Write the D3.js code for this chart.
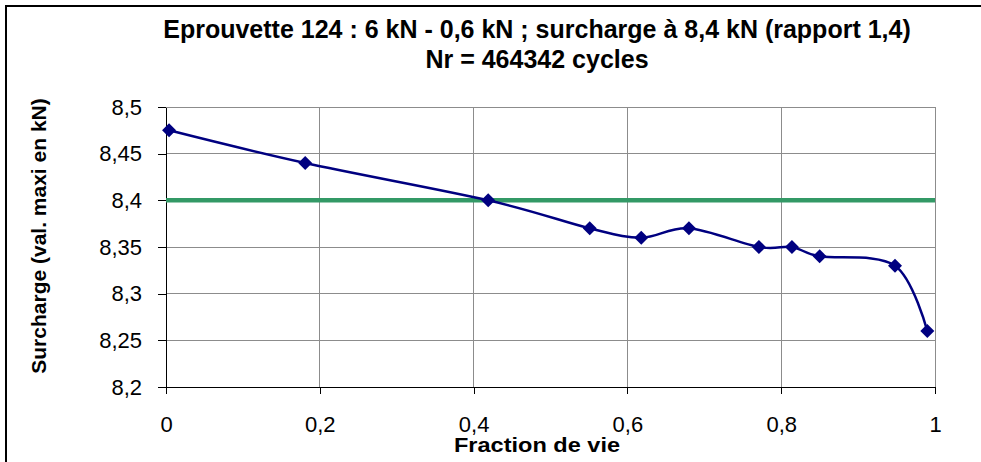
<!DOCTYPE html>
<html>
    <head>
        <meta charset="utf-8">
        <style>
        html, body {
            margin: 0px;
            background: #fff;
        }
        svg text {
            font-family: "Liberation Sans", Arial, sans-serif;
        }
        .axis path, .axis line {
            stroke: #000;
            shape-rendering: crispEdges;
        }
        .axis text {
            font-size: 22px;
            fill: #000;
        }
        .grid line {
            stroke: #8c8c8c;
            shape-rendering: crispEdges;
        }
        </style>
    </head>
    <body>
        <svg width="981" height="462"></svg>
        <script src="https://d3js.org/d3.v7.min.js"></script>
        <script>
            // fraction de vie / surcharge (kN)
            var fraction = [0.004, 0.181, 0.419, 0.551, 0.618, 0.680, 0.771, 0.814, 0.850, 0.948, 0.990];
            var surcharge = [8.475, 8.44, 8.40, 8.37, 8.36, 8.37, 8.35, 8.35, 8.34, 8.33, 8.26];
            var consigne = 8.4;
            var xTicks = [0, 0.2, 0.4, 0.6, 0.8, 1];
            var yTicks = [8.2, 8.25, 8.3, 8.35, 8.4, 8.45, 8.5];
            var titleLines = ["Eprouvette 124 : 6 kN - 0,6 kN ; surcharge à 8,4 kN (rapport 1,4)", "Nr = 464342 cycles"];

            var svg = d3.select("svg");
            var margin = {top: 107, left: 166, right: 46, bottom: 75};
            var width = 981 - margin.left - margin.right,
                height = 462 - margin.top - margin.bottom;

            // chart frame (cropped on right / bottom)
            svg.append("rect")
               .attr("x", 6).attr("y", 6)
               .attr("width", 1000).attr("height", 1000)
               .attr("fill", "none")
               .attr("stroke", "#000")
               .attr("stroke-width", 2);

            var x = d3.scaleLinear().domain([0, 1]).range([0, width]);
            var y = d3.scaleLinear().domain([8.2, 8.5]).range([height, 0]);
            var fmt = function(d) { return String(d).replace(".", ","); };

            var g = svg.append("g").attr("transform", "translate(" + margin.left + "," + margin.top + ")");

            g.append("g").attr("class", "grid")
             .selectAll("line.h").data(yTicks.slice(1)).enter().append("line")
             .attr("x1", 0).attr("x2", width)
             .attr("y1", function(d) { return y(d); }).attr("y2", function(d) { return y(d); });
            g.select(".grid")
             .selectAll("line.v").data(xTicks.slice(1)).enter().append("line")
             .attr("y1", 0).attr("y2", height)
             .attr("x1", function(d) { return x(d); }).attr("x2", function(d) { return x(d); });

            var xAxis = d3.axisBottom(x).tickValues(xTicks).tickFormat(fmt).tickSize(7).tickSizeOuter(0).tickPadding(22);
            var yAxis = d3.axisLeft(y).tickValues(yTicks).tickFormat(fmt).tickSize(8).tickSizeOuter(0).tickPadding(16);

            g.append("g").attr("class", "x axis")
             .attr("transform", "translate(0," + height + ")")
             .call(xAxis);
            g.selectAll(".x.axis .tick line").attr("stroke", "#8c8c8c");
            g.append("g").attr("class", "y axis").call(yAxis);

            g.append("line")
             .attr("x1", 0).attr("x2", width)
             .attr("y1", y(consigne)).attr("y2", y(consigne))
             .attr("stroke", "#339966")
             .attr("stroke-width", 4.5);

            var pts = fraction.map(function(f, i) { return [f, surcharge[i]]; });
            var line = d3.line()
                .x(function(d) { return x(d[0]); })
                .y(function(d) { return y(d[1]); })
                .curve(d3.curveCardinal.tension(0));

            g.append("path").datum(pts)
             .attr("d", line)
             .attr("fill", "none")
             .attr("stroke", "#000080")
             .attr("stroke-width", 2.5);

            g.selectAll(".pt").data(pts).enter().append("path")
             .attr("class", "pt")
             .attr("d", "M0,-7L7,0L0,7L-7,0Z")
             .attr("fill", "#000080")
             .attr("transform", function(d) { return "translate(" + x(d[0]) + "," + y(d[1]) + ")"; });

            svg.selectAll(".title").data(titleLines).enter().append("text")
               .attr("class", "title")
               .attr("x", 537)
               .attr("y", function(d, i) { return 38 + i * 30; })
               .attr("text-anchor", "middle")
               .style("font-size", "25px")
               .style("font-weight", "bold")
               .text(function(d) { return d; });

            svg.append("text")
               .attr("x", 537).attr("y", 452)
               .attr("text-anchor", "middle")
               .attr("textLength", 166)
               .attr("lengthAdjust", "spacingAndGlyphs")
               .style("font-size", "20px")
               .style("font-weight", "bold")
               .text("Fraction de vie");

            svg.append("text")
               .attr("transform", "translate(46,236) rotate(-90)")
               .attr("text-anchor", "middle")
               .style("font-size", "21px")
               .style("font-weight", "bold")
               .text("Surcharge (val. maxi en kN)");
        </script>
    </body>
</html>
